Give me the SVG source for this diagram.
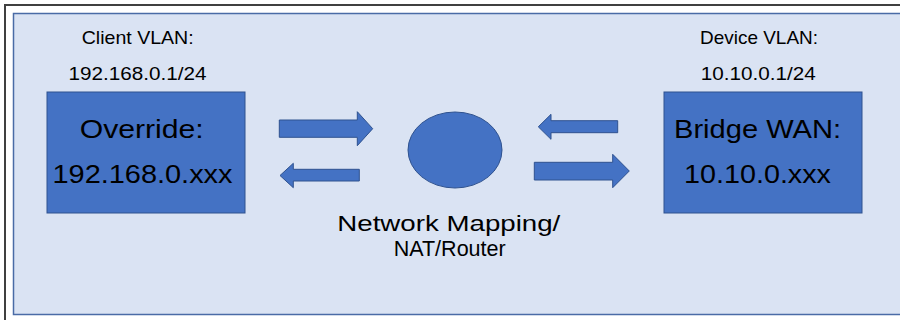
<svg xmlns="http://www.w3.org/2000/svg" width="900" height="320" viewBox="0 0 900 320">
  <style>
    .frame { fill: #ffffff; stroke: #404040; stroke-width: 2; }
    .panel { fill: #dae3f3; stroke: #4a6ba6; stroke-width: 1.5; }
    .shape { fill: #4472c4; stroke: #2f528f; stroke-width: 1; }
    text { font-family: "Liberation Sans", Arial, sans-serif; fill: #000000; text-anchor: middle; }
    .small { font-size: 18.5px; }
    .big { font-size: 26px; }
    .mid { font-size: 22px; }
  </style>

  <!-- outer frame and background panel -->
  <rect class="frame" x="5" y="5" width="910" height="330"/>
  <rect class="panel" x="13.5" y="13.5" width="900" height="301"/>

  <!-- VLAN captions -->
  <g id="client-vlan-label">
    <text class="small" x="137.7" y="44" textLength="112" lengthAdjust="spacingAndGlyphs">Client VLAN:</text>
    <text class="small" x="137.5" y="80" textLength="138" lengthAdjust="spacingAndGlyphs">192.168.0.1/24</text>
  </g>
  <g id="device-vlan-label">
    <text class="small" x="759" y="44" textLength="118" lengthAdjust="spacingAndGlyphs">Device VLAN:</text>
    <text class="small" x="758.3" y="80" textLength="115" lengthAdjust="spacingAndGlyphs">10.10.0.1/24</text>
  </g>

  <!-- client side box -->
  <g id="override">
    <rect class="shape" x="47" y="92" width="198" height="121"/>
    <text class="big" x="141.7" y="138.3" textLength="124" lengthAdjust="spacingAndGlyphs">Override:</text>
    <text class="big" x="142.5" y="182.7" textLength="180" lengthAdjust="spacingAndGlyphs">192.168.0.xxx</text>
  </g>

  <!-- device side box -->
  <g id="bridge-wan">
    <rect class="shape" x="664" y="92" width="198" height="121"/>
    <text class="big" x="757.5" y="138.3" textLength="167" lengthAdjust="spacingAndGlyphs">Bridge WAN:</text>
    <text class="big" x="757.5" y="182.7" textLength="147" lengthAdjust="spacingAndGlyphs">10.10.0.xxx</text>
  </g>

  <!-- router in the middle -->
  <g id="router">
    <ellipse class="shape" cx="455" cy="150" rx="47" ry="38"/>
    <text class="mid" x="448.8" y="230.5" textLength="223" lengthAdjust="spacingAndGlyphs">Network Mapping/</text>
    <text class="mid" x="449.7" y="256" textLength="112" lengthAdjust="spacingAndGlyphs">NAT/Router</text>
  </g>

  <!-- block arrows between the boxes and the router -->
  <g id="connectors">
    <path class="shape" d="M279.3,120 H357.3 V111.7 L372.7,128.7 L357.3,145.7 V137.3 H279.3 Z"/>
    <path class="shape" d="M359.3,169.3 H293.3 V163.3 L280,175.5 L293.3,187.7 V181 H359.3 Z"/>
    <path class="shape" d="M617.7,120.7 H551 V114.3 L538.3,126.8 L551,139.3 V132.7 H617.7 Z"/>
    <path class="shape" d="M534.3,162.3 H612.7 V154.3 L629.3,171 L612.7,187.7 V180 H534.3 Z"/>
  </g>
</svg>
